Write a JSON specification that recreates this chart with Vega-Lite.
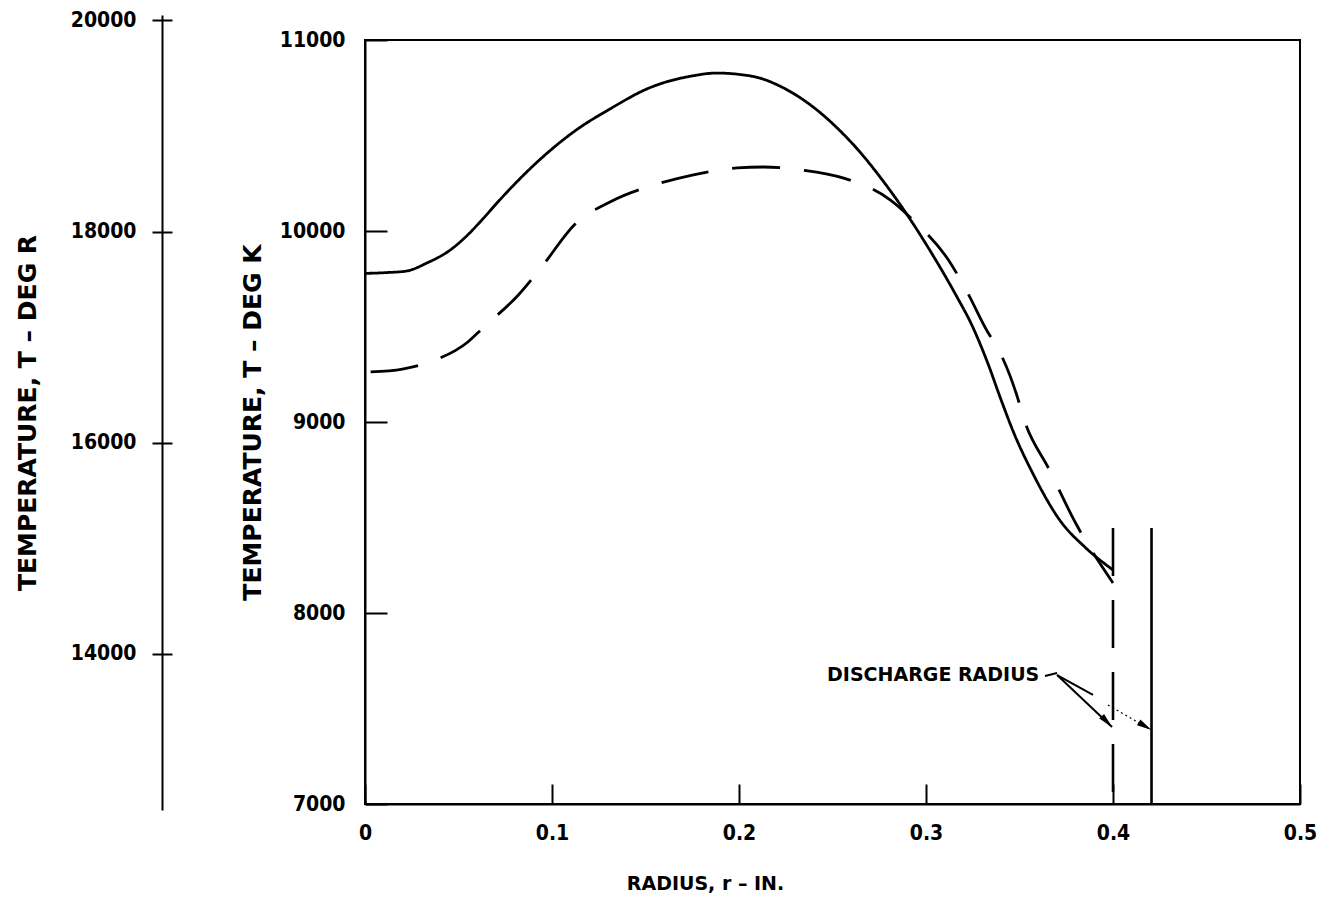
{
  "$schema": "https://vega.github.io/schema/vega-lite/v6.json",
  "width": 935,
  "height": 764,
  "autosize": {"type": "none"},
  "padding": {"left": 365, "top": 40, "right": 22, "bottom": 107},
  "background": "white",
  "config": {
    "view": {"stroke": "black", "strokeWidth": 2},
    "axis": {"domainColor": "black", "tickColor": "black", "labelColor": "black", "titleColor": "black", "grid": false, "domainWidth": 2, "tickWidth": 2}
  },
  "datasets": {
    "curves": [
      {"series": "solid", "r": 0.000, "T": 9778},
      {"series": "solid", "r": 0.011, "T": 9782},
      {"series": "solid", "r": 0.022, "T": 9790},
      {"series": "solid", "r": 0.033, "T": 9832},
      {"series": "solid", "r": 0.0455, "T": 9900},
      {"series": "solid", "r": 0.056, "T": 9990},
      {"series": "solid", "r": 0.0615, "T": 10047},
      {"series": "solid", "r": 0.072, "T": 10162},
      {"series": "solid", "r": 0.078, "T": 10225},
      {"series": "solid", "r": 0.095, "T": 10387},
      {"series": "solid", "r": 0.113, "T": 10529},
      {"series": "solid", "r": 0.131, "T": 10639},
      {"series": "solid", "r": 0.152, "T": 10749},
      {"series": "solid", "r": 0.175, "T": 10812},
      {"series": "solid", "r": 0.188, "T": 10827},
      {"series": "solid", "r": 0.200, "T": 10820},
      {"series": "solid", "r": 0.211, "T": 10801},
      {"series": "solid", "r": 0.222, "T": 10758},
      {"series": "solid", "r": 0.233, "T": 10696},
      {"series": "solid", "r": 0.243, "T": 10623},
      {"series": "solid", "r": 0.254, "T": 10525},
      {"series": "solid", "r": 0.265, "T": 10410},
      {"series": "solid", "r": 0.2754, "T": 10283},
      {"series": "solid", "r": 0.2925, "T": 10047},
      {"series": "solid", "r": 0.302, "T": 9900},
      {"series": "solid", "r": 0.3166, "T": 9654},
      {"series": "solid", "r": 0.324, "T": 9518},
      {"series": "solid", "r": 0.333, "T": 9309},
      {"series": "solid", "r": 0.340, "T": 9120},
      {"series": "solid", "r": 0.347, "T": 8942},
      {"series": "solid", "r": 0.357, "T": 8733},
      {"series": "solid", "r": 0.372, "T": 8480},
      {"series": "solid", "r": 0.385, "T": 8345},
      {"series": "solid", "r": 0.400, "T": 8225},
      {"series": "dashed", "r": 0.003, "T": 9262},
      {"series": "dashed", "r": 0.020, "T": 9277},
      {"series": "dashed", "r": 0.036, "T": 9319},
      {"series": "dashed", "r": 0.055, "T": 9419},
      {"series": "dashed", "r": 0.063, "T": 9492},
      {"series": "dashed", "r": 0.082, "T": 9665},
      {"series": "dashed", "r": 0.094, "T": 9806},
      {"series": "dashed", "r": 0.113, "T": 10042},
      {"series": "dashed", "r": 0.131, "T": 10152},
      {"series": "dashed", "r": 0.158, "T": 10251},
      {"series": "dashed", "r": 0.175, "T": 10293},
      {"series": "dashed", "r": 0.199, "T": 10330},
      {"series": "dashed", "r": 0.213, "T": 10335},
      {"series": "dashed", "r": 0.234, "T": 10319},
      {"series": "dashed", "r": 0.256, "T": 10277},
      {"series": "dashed", "r": 0.281, "T": 10162},
      {"series": "dashed", "r": 0.293, "T": 10058},
      {"series": "dashed", "r": 0.312, "T": 9848},
      {"series": "dashed", "r": 0.322, "T": 9681},
      {"series": "dashed", "r": 0.333, "T": 9471},
      {"series": "dashed", "r": 0.338, "T": 9393},
      {"series": "dashed", "r": 0.349, "T": 9126},
      {"series": "dashed", "r": 0.352, "T": 9026},
      {"series": "dashed", "r": 0.366, "T": 8749},
      {"series": "dashed", "r": 0.380, "T": 8471},
      {"series": "dashed", "r": 0.400, "T": 8157}
    ],
    "radii": [
      {"line": "dashed", "r": 0.4, "Ttop": 8445, "Tbot": 7000},
      {"line": "solid", "r": 0.4206, "Ttop": 8445, "Tbot": 7000}
    ],
    "leaders": [
      {"seg": "squiggle", "r": 0.3636, "T": 7670, "r2": 0.3701, "T2": 7686},
      {"seg": "to dashed radius", "r": 0.3701, "T": 7675, "r2": 0.3995, "T2": 7403},
      {"seg": "branch", "r": 0.3701, "T": 7675, "r2": 0.3893, "T2": 7571}
    ],
    "dotted": [
      {"seg": "to solid radius", "r": 0.3973, "T": 7518, "r2": 0.4206, "T2": 7387}
    ],
    "tipA": [{"r": 0.3995, "T": 7403}],
    "tipB": [{"r": 0.4206, "T": 7387}],
    "note": [{"r": 0.2471, "T": 7675, "text": "DISCHARGE RADIUS"}],
    "rankine": [{"R": 12517}, {"R": 20052}]
  },
  "layer": [
    {
      "data": {"name": "curves"},
      "mark": {"type": "line", "color": "black", "strokeWidth": 2.8, "interpolate": "monotone"},
      "encoding": {
        "x": {"field": "r", "type": "quantitative", "scale": {"domain": [0, 0.5], "nice": false, "zero": false},
          "axis": {"values": [0, 0.1, 0.2, 0.3, 0.4, 0.5], "format": ".1~f", "tickSize": -20, "labelPadding": 38,
            "labelFont": "DejaVu Sans Condensed", "labelFontWeight": "bold", "labelFontSize": 21, "labelFlush": false,
            "title": "RADIUS, r – IN.", "titleFont": "DejaVu Sans", "titleFontWeight": "bold", "titleFontSize": 19,
            "titleX": 340, "titleY": 79, "titleAlign": "center", "titleBaseline": "middle"}},
        "y": {"field": "T", "type": "quantitative", "scale": {"domain": [7000, 11000], "nice": false, "zero": false},
          "axis": {"orient": "left", "values": [7000, 8000, 9000, 10000, 11000], "format": "d", "tickSize": -22, "labelPadding": 42,
            "labelFont": "DejaVu Sans Condensed", "labelFontWeight": "bold", "labelFontSize": 21,
            "title": "TEMPERATURE, T – DEG K", "titleFont": "DejaVu Sans", "titleFontWeight": "bold", "titleFontSize": 25,
            "titleX": -113, "titleBaseline": "middle"}},
        "detail": {"field": "series"},
        "strokeDash": {"field": "series", "type": "nominal", "scale": {"domain": ["solid", "dashed"], "range": [[1, 0], [48, 24]]}, "legend": null}
      }
    },
    {
      "data": {"name": "radii"},
      "mark": {"type": "rule", "color": "black", "strokeWidth": 2.6},
      "encoding": {
        "x": {"field": "r", "type": "quantitative", "scale": {"domain": [0, 0.5], "nice": false, "zero": false}},
        "y": {"field": "Ttop", "type": "quantitative", "scale": {"domain": [7000, 11000], "nice": false, "zero": false}, "axis": null},
        "y2": {"field": "Tbot"},
        "strokeDash": {"field": "line", "type": "nominal", "scale": {"domain": ["solid", "dashed"], "range": [[1, 0], [60, 18]]}, "legend": null}
      }
    },
    {
      "data": {"name": "leaders"},
      "mark": {"type": "rule", "color": "black", "strokeWidth": 2},
      "encoding": {
        "x": {"field": "r", "type": "quantitative", "scale": {"domain": [0, 0.5], "nice": false, "zero": false}},
        "y": {"field": "T", "type": "quantitative", "scale": {"domain": [7000, 11000], "nice": false, "zero": false}, "axis": null},
        "x2": {"field": "r2"},
        "y2": {"field": "T2"}
      }
    },
    {
      "data": {"name": "dotted"},
      "mark": {"type": "rule", "color": "black", "strokeWidth": 1.2, "strokeDash": [2, 3]},
      "encoding": {
        "x": {"field": "r", "type": "quantitative", "scale": {"domain": [0, 0.5], "nice": false, "zero": false}},
        "y": {"field": "T", "type": "quantitative", "scale": {"domain": [7000, 11000], "nice": false, "zero": false}, "axis": null},
        "x2": {"field": "r2"},
        "y2": {"field": "T2"}
      }
    },
    {
      "data": {"name": "tipA"},
      "mark": {"type": "point", "shape": "M0,0L-2,-0.45L-2,0.45Z", "size": 225, "filled": true, "color": "black", "opacity": 1, "angle": 46},
      "encoding": {
        "x": {"field": "r", "type": "quantitative", "scale": {"domain": [0, 0.5], "nice": false, "zero": false}},
        "y": {"field": "T", "type": "quantitative", "scale": {"domain": [7000, 11000], "nice": false, "zero": false}, "axis": null}
      }
    },
    {
      "data": {"name": "tipB"},
      "mark": {"type": "point", "shape": "M0,0L-2,-0.45L-2,0.45Z", "size": 225, "filled": true, "color": "black", "opacity": 1, "angle": 31},
      "encoding": {
        "x": {"field": "r", "type": "quantitative", "scale": {"domain": [0, 0.5], "nice": false, "zero": false}},
        "y": {"field": "T", "type": "quantitative", "scale": {"domain": [7000, 11000], "nice": false, "zero": false}, "axis": null}
      }
    },
    {
      "data": {"name": "note"},
      "mark": {"type": "text", "align": "left", "baseline": "middle", "font": "DejaVu Sans", "fontWeight": "bold", "fontSize": 19, "color": "black"},
      "encoding": {
        "x": {"field": "r", "type": "quantitative", "scale": {"domain": [0, 0.5], "nice": false, "zero": false}},
        "y": {"field": "T", "type": "quantitative", "scale": {"domain": [7000, 11000], "nice": false, "zero": false}, "axis": null},
        "text": {"field": "text"}
      }
    },
    {
      "data": {"name": "rankine"},
      "mark": {"type": "point", "opacity": 0},
      "encoding": {
        "y": {"field": "R", "type": "quantitative", "scale": {"domain": [12517, 20052], "range": [770, -25], "nice": false, "zero": false},
          "axis": {"orient": "left", "offset": 203, "values": [14000, 16000, 18000, 20000], "format": "d", "tickSize": 10, "labelPadding": 16,
            "labelFont": "DejaVu Sans Condensed", "labelFontWeight": "bold", "labelFontSize": 21,
            "title": "TEMPERATURE, T – DEG R", "titleFont": "DejaVu Sans", "titleFontWeight": "bold", "titleFontSize": 25,
            "titleX": -135, "titleBaseline": "middle"}}
      }
    },
    {
      "data": {"name": "rankine"},
      "mark": {"type": "point", "opacity": 0},
      "encoding": {
        "y": {"field": "R", "type": "quantitative", "scale": {"domain": [12517, 20052], "range": [770, -25], "nice": false, "zero": false},
          "axis": {"orient": "left", "offset": 203, "values": [14000, 16000, 18000, 20000], "tickSize": -10, "labels": false, "domain": false, "title": null}}
      }
    }
  ],
  "resolve": {"scale": {"y": "independent"}, "axis": {"y": "independent"}}
}
